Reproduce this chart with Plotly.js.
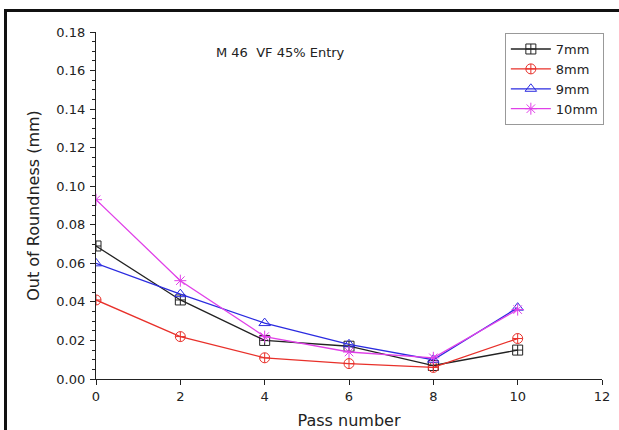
<!DOCTYPE html>
<html>
<head>
<meta charset="utf-8">
<script src="https://cdn.plot.ly/plotly-3.0.1.min.js"></script>
<style>
  html, body { margin: 0; padding: 0; background: #fff; }
  #chart { width: 619px; height: 430px; position: absolute; left: 0; top: 0; }
  #frame { position: absolute; left: 4px; top: 9px; width: 620px; height: 430px;
           border-left: 3px solid #111; border-top: 3px solid #111; pointer-events: none; }
</style>
</head>
<body>
<div id="chart"></div>
<div id="frame"></div>
<script>
const passNumbers = [0, 2, 4, 6, 8, 10];
const seriesNames = ["7mm", "8mm", "9mm", "10mm"];
const values7mm  = [0.069, 0.041, 0.020, 0.017, 0.007, 0.015];
const values8mm  = [0.041, 0.022, 0.011, 0.008, 0.006, 0.021];
const values9mm  = [0.060, 0.044, 0.029, 0.018, 0.010, 0.037];
const values10mm = [0.093, 0.051, 0.022, 0.014, 0.011, 0.036];
const xTickVals = [0, 2, 4, 6, 8, 10, 12];
const yTickVals = [0, 0.02, 0.04, 0.06, 0.08, 0.10, 0.12, 0.14, 0.16, 0.18];
const yTickText = ["0.00", "0.02", "0.04", "0.06", "0.08", "0.10", "0.12", "0.14", "0.16", "0.18"];
const annotationText = "M 46  VF 45% Entry";

const colors = ["#222222", "#e8302a", "#2b2be0", "#e040e8"];
const symbols = ["square-cross-open", "circle-cross-open", "triangle-up-open", "asterisk-open"];
const allValues = [values7mm, values8mm, values9mm, values10mm];

const traces = allValues.map((vals, i) => ({
  x: passNumbers,
  y: vals,
  name: seriesNames[i],
  type: "scatter",
  mode: "lines+markers",
  line: { color: colors[i], width: 1.3 },
  marker: { symbol: symbols[i], size: 10, color: colors[i], line: { color: colors[i], width: 1 } }
}));

const font = "DejaVu Sans, sans-serif";

const layout = {
  width: 619,
  height: 430,
  margin: { l: 96, r: 17, t: 32, b: 51 },
  paper_bgcolor: "#ffffff",
  plot_bgcolor: "#ffffff",
  showlegend: true,
  font: { family: font, color: "#222" },
  xaxis: {
    range: [0, 12],
    tickvals: xTickVals,
    ticks: "outside",
    ticklen: 5,
    tickwidth: 1,
    tickcolor: "#222",
    showline: true,
    linecolor: "#222",
    linewidth: 1.2,
    showgrid: false,
    zeroline: false,
    automargin: false,
    tickfont: { size: 13, family: font, color: "#222" },
    title: { text: "Pass number", font: { size: 16, family: font, color: "#222" }, standoff: 12 }
  },
  yaxis: {
    range: [0, 0.18],
    tickvals: yTickVals,
    ticktext: yTickText,
    ticks: "outside",
    ticklen: 5,
    tickwidth: 1,
    tickcolor: "#222",
    showline: true,
    linecolor: "#222",
    linewidth: 1.2,
    showgrid: false,
    zeroline: false,
    automargin: false,
    ticklabelstandoff: 2,
    minor: { dtick: 0.005, ticks: "outside", ticklen: 3, tickcolor: "#222", tickwidth: 1, showgrid: false },
    tickfont: { size: 13, family: font, color: "#222" },
    title: { text: "Out of Roundness (mm)", font: { size: 16, family: font, color: "#222" }, standoff: 12 }
  },
  legend: {
    x: 0.808, y: 0.997, xanchor: "left", yanchor: "top",
    bordercolor: "#999", borderwidth: 1, bgcolor: "#fff",
    font: { size: 13, family: font, color: "#222" },
    itemwidth: 40,
    tracegroupgap: 0
  },
  annotations: [{
    text: annotationText,
    xref: "paper", yref: "paper",
    x: 0.364, y: 0.942, xanchor: "center", yanchor: "middle",
    showarrow: false,
    font: { size: 13, family: font, color: "#222" }
  }]
};

Plotly.newPlot("chart", traces, layout, { displayModeBar: false, staticPlot: true });
</script>
</body>
</html>
